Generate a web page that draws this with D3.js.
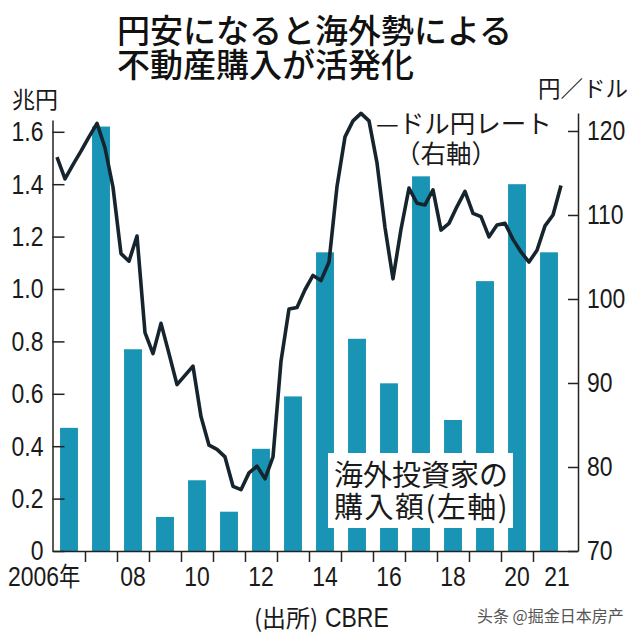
<!DOCTYPE html>
<html>
<head>
<meta charset="utf-8">
<script src="https://cdn.jsdelivr.net/npm/d3@7/dist/d3.min.js"></script>
<style>
  html, body { margin: 0; padding: 0; background: #ffffff; }
  svg { display: block; }
  .num { font-family: "Liberation Sans", Arial, sans-serif; }
  .cjk { font-family: "Noto Sans CJK JP", "Noto Sans", sans-serif; }
</style>
</head>
<body>
<svg id="chart" width="640" height="640"></svg>
<script>
// ---- data ----
const years = [2006, 2007, 2008, 2009, 2010, 2011, 2012, 2013, 2014, 2015, 2016, 2017, 2018, 2019, 2020, 2021];
// 海外投資家の購入額 (兆円)
const purchase = [0.47, 1.62, 0.77, 0.13, 0.27, 0.15, 0.39, 0.59, 1.14, 0.81, 0.64, 1.43, 0.50, 1.03, 1.40, 1.14];
// ドル円レート (円/ドル), quarterly 2006Q1 .. 2021Q4
const usdjpy = [
  116.9, 114.3, 116.0, 117.6,
  119.3, 120.9, 118.0, 113.3,
  105.4, 104.5, 107.5, 96.0,
  93.5, 97.1, 93.5, 89.8,
  90.9, 92.0, 86.0, 82.6,
  82.1, 81.2, 77.7, 77.3,
  79.3, 80.1, 78.6, 81.2,
  92.6, 98.8, 99.0, 101.1,
  102.8, 102.2, 104.4, 113.4,
  119.3, 121.2, 122.1, 121.2,
  116.2, 108.5, 102.4, 108.3,
  113.2, 111.4, 111.2, 113.0,
  108.2, 109.0, 111.0, 112.8,
  110.2, 109.8, 107.4, 108.8,
  109.0, 107.1, 105.6, 104.4,
  105.8, 108.7, 110.0, 113.5
];
const leftTicks = [0, 0.2, 0.4, 0.6, 0.8, 1.0, 1.2, 1.4, 1.6];
const rightTicks = [70, 80, 90, 100, 110, 120];
const yearTicks = [2007, 2008, 2009, 2010, 2011, 2012, 2013, 2014, 2015, 2016, 2017, 2018, 2019, 2020, 2021];
const labelYears = [2006, 2008, 2010, 2012, 2014, 2016, 2018, 2020, 2021];
const labelText = { 2006: "2006", 2008: "08", 2010: "10", 2012: "12", 2014: "14", 2016: "16", 2018: "18", 2020: "20", 2021: "21" };

// ---- scales ----
const svg = d3.select("#chart");
const x0 = 53, xAxisR = 578, yBase = 551;
const NARROW = 0.82; // horizontal compression for the condensed numeral face
const xLin = d3.scaleLinear().domain([2006, 2022.4]).range([x0, x0 + 16.4 * 32]);
const xBand = d3.scaleBand().domain(years).range([x0, x0 + 16 * 32]).paddingInner(0.44).paddingOuter(0.22);
const yL = d3.scaleLinear().domain([0, 1.645]).range([yBase, 120]);
const yR = d3.scaleLinear().domain([70, 122.14]).range([yBase, 113]);

const ink = "#1a1a1a";

// ---- bars ----
svg.append("g").selectAll("rect").data(years).join("rect")
  .attr("x", d => xBand(d))
  .attr("width", xBand.bandwidth())
  .attr("y", (d, i) => yL(purchase[i]))
  .attr("height", (d, i) => yBase - yL(purchase[i]))
  .attr("fill", "#1a94b4");

// ---- legend box for bars (white background) ----
const box = svg.append("g");
box.append("rect").attr("x", 328).attr("y", 453).attr("width", 185).attr("height", 75).attr("fill", "#ffffff");
box.append("text").attr("class", "cjk").attr("x", 334).attr("y", 486)
  .attr("font-size", 29).attr("fill", ink).text("海外投資家の");
box.append("text").attr("class", "cjk").attr("x", 334).attr("y", 518)
  .attr("font-size", 29).attr("letter-spacing", 1.5).attr("fill", ink).text("購入額(左軸)");

// ---- line ----
const line = d3.line()
  .x((d, i) => xLin(2006 + (i + 0.5) / 4))
  .y(d => yR(d));
svg.append("path").datum(usdjpy)
  .attr("d", line)
  .attr("fill", "none")
  .attr("stroke", "#16242d")
  .attr("stroke-width", 3.6)
  .attr("stroke-linejoin", "round");

// ---- axes ----
function styleAxis(g) {
  g.attr("font-family", null).attr("font-size", null);
  g.selectAll(".domain").attr("stroke", "#222").attr("stroke-width", 1.5);
  g.selectAll(".tick line").attr("stroke", "#222").attr("stroke-width", 1.5);
  g.selectAll(".tick text")
    .attr("class", "num").attr("font-size", 28).attr("fill", ink)
    .attr("transform", `scale(${NARROW},1)`)
    .attr("x", function () { return (+this.getAttribute("x") || 0) / NARROW; });
}

const gL = svg.append("g").attr("transform", `translate(${x0 - 0.5},0)`)
  .call(d3.axisLeft(yL).tickValues(leftTicks).tickSizeInner(-12).tickSizeOuter(0).tickPadding(9)
    .tickFormat(d => d === 0 ? "0" : d3.format(".1f")(d)));
styleAxis(gL);

const gR = svg.append("g").attr("transform", `translate(${xAxisR},0)`)
  .call(d3.axisRight(yR).tickValues(rightTicks).tickSizeInner(-10).tickSizeOuter(0).tickPadding(9));
styleAxis(gR);

const gB = svg.append("g").attr("transform", `translate(0,${yBase})`)
  .call(d3.axisBottom(xLin).tickValues(yearTicks).tickSizeInner(11).tickSizeOuter(0).tickFormat(""));
styleAxis(gB);

const gBL = svg.append("g").attr("transform", `translate(0,${yBase})`)
  .call(d3.axisBottom(xBand).tickValues(labelYears).tickSize(0).tickPadding(15)
    .tickFormat(d => labelText[d]));
gBL.select(".domain").remove();
styleAxis(gBL);
const firstCenter = xBand(2006) + xBand.bandwidth() / 2;
gBL.selectAll(".tick").filter(d => d === 2006).select("text")
  .attr("text-anchor", "start").attr("x", (8 - firstCenter) / NARROW)
  .append("tspan").attr("class", "cjk").attr("font-size", 26).text("年");
gBL.selectAll(".tick").filter(d => d === 2021).select("text").attr("x", 8 / NARROW);

// ---- axis titles ----
svg.append("text").attr("class", "cjk").attr("x", 12).attr("y", 108)
  .attr("font-size", 23).attr("fill", ink).text("兆円");
svg.append("text").attr("class", "cjk").attr("x", 538).attr("y", 97)
  .attr("font-size", 22.5).attr("fill", ink).text("円／ドル");

// ---- line label ----
svg.append("text").attr("class", "cjk").attr("x", 376).attr("y", 133)
  .attr("font-size", 25.5).attr("fill", ink).text("—ドル円レート");
svg.append("text").attr("class", "cjk").attr("x", 395).attr("y", 163)
  .attr("font-size", 25.5).attr("fill", ink).text("（右軸）");

// ---- title ----
svg.append("text").attr("class", "cjk").attr("x", 117).attr("y", 43)
  .attr("font-size", 33).attr("font-weight", 500).attr("fill", "#111").text("円安になると海外勢による");
svg.append("text").attr("class", "cjk").attr("x", 117).attr("y", 77)
  .attr("font-size", 33).attr("font-weight", 500).attr("fill", "#111").text("不動産購入が活発化");

// ---- source ----
svg.append("text").attr("class", "cjk").attr("x", 254).attr("y", 627)
  .attr("font-size", 24).attr("fill", ink).text("(出所)");
svg.append("text").attr("class", "num").attr("x", 325 / NARROW).attr("y", 627)
  .attr("transform", `scale(${NARROW},1)`)
  .attr("font-size", 28).attr("fill", ink).text("CBRE");

// ---- watermark ----
svg.append("text").attr("x", 477).attr("y", 622)
  .attr("font-family", "'Noto Sans CJK SC', sans-serif").attr("font-size", 16)
  .attr("fill", "#555").text("头条 @掘金日本房产");
</script>
</body>
</html>
